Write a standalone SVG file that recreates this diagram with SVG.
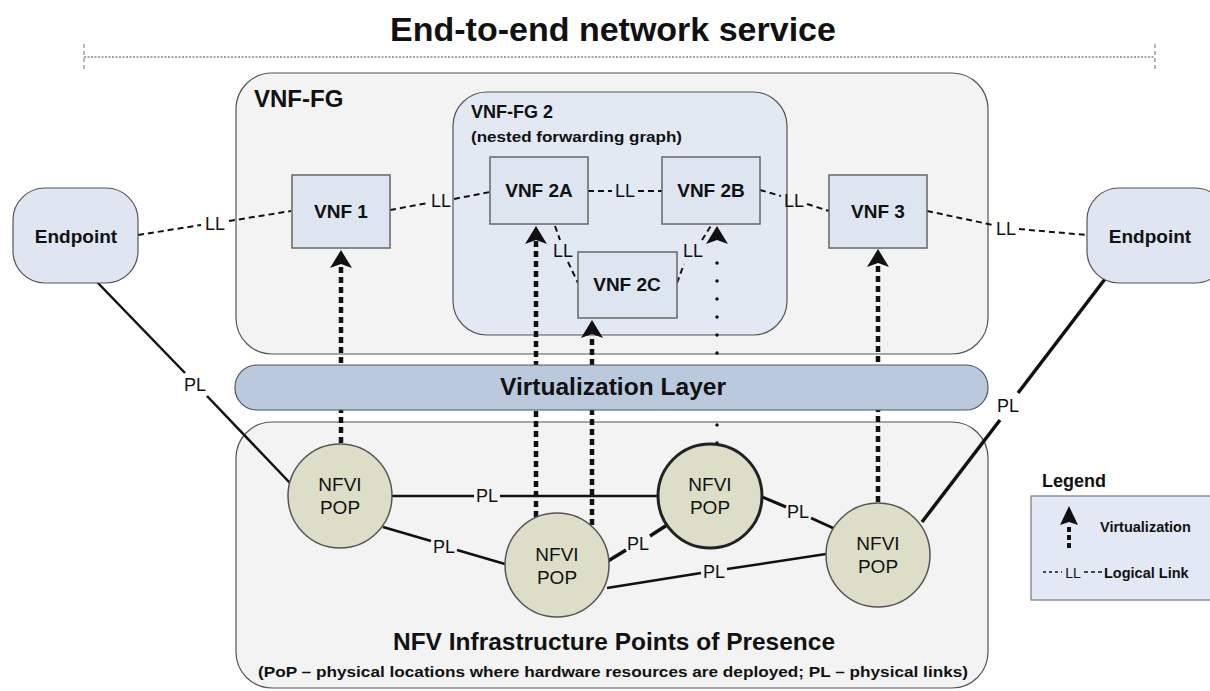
<svg xmlns="http://www.w3.org/2000/svg" width="1210" height="691" viewBox="0 0 1210 691">
<defs>
<style>
text{font-family:"Liberation Sans",Arial,sans-serif;fill:#111}
.b{font-weight:bold}
.m{text-anchor:middle}
.box{fill:#f3f3f3;stroke:#555;stroke-width:1.2}
.vnf{fill:#dde5f0;stroke:#666;stroke-width:1.5}
.ep{fill:#dfe6f1;stroke:#555;stroke-width:1.2}
.pop{fill:#dcdec8;stroke:#555;stroke-width:1.5}
.ll{fill:none;stroke:#111;stroke-width:2;stroke-dasharray:6 4}
.pl{fill:none;stroke:#111;stroke-width:2.5}
.virt{fill:none;stroke:#111;stroke-width:4.5;stroke-dasharray:6 4}
.vdot{fill:none;stroke:#111;stroke-width:3.5;stroke-dasharray:0 18;stroke-linecap:round}
.lbl{font-size:18px}
</style>
<marker id="ah" viewBox="0 0 18 22" refX="3" refY="11" markerWidth="18" markerHeight="22" markerUnits="userSpaceOnUse" orient="auto">
<path d="M0 0 L18 11 L0 22 L4 11 Z" fill="#111"/>
</marker>
</defs>

<g id="title">
<text class="b m" x="613" y="41" font-size="34">End-to-end network service</text>
<line x1="84" y1="57" x2="1155" y2="57" stroke="#888" stroke-width="1.5" stroke-dasharray="2 1.5"/>
<line x1="84" y1="44" x2="84" y2="70" stroke="#888" stroke-width="1.2" stroke-dasharray="4 3"/>
<line x1="1155" y1="44" x2="1155" y2="70" stroke="#888" stroke-width="1.2" stroke-dasharray="4 3"/>
</g>

<g id="vnffg">
<rect class="box" x="236" y="73" width="752" height="281" rx="36"/>
<text class="b" x="254" y="107" font-size="24">VNF-FG</text>
</g>

<g id="nfvi-area">
<rect class="box" x="236" y="422" width="752" height="266" rx="36"/>
<text class="b m" x="614" y="650" font-size="24" textLength="442" lengthAdjust="spacingAndGlyphs">NFV Infrastructure Points of Presence</text>
<text class="b m" x="613" y="677" font-size="15" textLength="710" lengthAdjust="spacingAndGlyphs">(PoP – physical locations where hardware resources are deployed; PL – physical links)</text>
</g>

<g id="vnffg2">
<rect x="453" y="92" width="334" height="243" rx="34" fill="#e2e9f3" stroke="#555" stroke-width="1.2"/>
<text class="b" x="471" y="118" font-size="18">VNF-FG 2</text>
<text class="b" x="471" y="142" font-size="15" textLength="211" lengthAdjust="spacingAndGlyphs">(nested forwarding graph)</text>
</g>

<g id="connectors">
<!-- virtualization arrows -->
<line class="virt" x1="341" y1="443" x2="341" y2="265" marker-end="url(#ah)"/>
<line class="virt" x1="536" y1="517" x2="536" y2="241" marker-end="url(#ah)"/>
<line class="virt" x1="592" y1="525" x2="592" y2="335" marker-end="url(#ah)"/>
<line class="vdot" x1="717" y1="443" x2="717" y2="246"/>
<line x1="717" y1="250" x2="717" y2="241" stroke="none" marker-end="url(#ah)"/>
<line class="virt" x1="878" y1="502" x2="878" y2="264" marker-end="url(#ah)"/>

<!-- logical links -->
<line class="ll" x1="138" y1="235" x2="201" y2="225"/>
<line class="ll" x1="229" y1="221" x2="291" y2="211"/>
<text class="lbl m" x="215" y="230">LL</text>

<line class="ll" x1="390" y1="210" x2="428" y2="203"/>
<line class="ll" x1="454" y1="199" x2="490" y2="192"/>
<text class="lbl m" x="441" y="207">LL</text>

<line class="ll" x1="588" y1="191" x2="612" y2="191"/>
<line class="ll" x1="638" y1="191" x2="662" y2="191"/>
<text class="lbl m" x="625" y="197">LL</text>

<line class="ll" x1="760" y1="190" x2="781" y2="196"/>
<line class="ll" x1="807" y1="204" x2="829" y2="211"/>
<text class="lbl m" x="794" y="207">LL</text>

<line class="ll" x1="927" y1="211" x2="993" y2="225"/>
<line class="ll" x1="1019" y1="229" x2="1087" y2="235"/>
<text class="lbl m" x="1006" y="235">LL</text>

<line class="ll" x1="555" y1="226" x2="560" y2="240"/>
<line class="ll" x1="568" y1="262" x2="578" y2="283"/>
<text class="lbl m" x="563" y="257">LL</text>

<line class="ll" x1="677" y1="283" x2="684" y2="264"/>
<line class="ll" x1="702" y1="240" x2="712" y2="224"/>
<text class="lbl m" x="693" y="257">LL</text>

<!-- physical links -->
<line class="pl" x1="97" y1="282" x2="185" y2="373"/>
<line class="pl" x1="207" y1="396" x2="290" y2="483"/>
<text class="lbl m" x="195" y="391">PL</text>

<line class="pl" x1="1105" y1="279" x2="1018" y2="393" style="stroke-width:3.5"/>
<line class="pl" x1="1000" y1="420" x2="922" y2="522" style="stroke-width:3.5"/>
<text class="lbl m" x="1008" y="412">PL</text>

<line class="pl" x1="392" y1="496" x2="474" y2="496"/>
<line class="pl" x1="500" y1="496" x2="658" y2="496"/>
<text class="lbl m" x="487" y="502">PL</text>

<line class="pl" x1="383" y1="527" x2="431" y2="541"/>
<line class="pl" x1="457" y1="550" x2="505" y2="564"/>
<text class="lbl m" x="444" y="553">PL</text>

<line class="pl" x1="608" y1="561" x2="626" y2="550" style="stroke-width:3.5"/>
<line class="pl" x1="650" y1="536" x2="667" y2="525" style="stroke-width:3.5"/>
<text class="lbl m" x="638" y="550">PL</text>

<line class="pl" x1="762" y1="497" x2="786" y2="507" style="stroke-width:3"/>
<line class="pl" x1="811" y1="518" x2="833" y2="528" style="stroke-width:3"/>
<text class="lbl m" x="798" y="518">PL</text>

<line class="pl" x1="607" y1="588" x2="701" y2="573"/>
<line class="pl" x1="727" y1="569" x2="826" y2="554"/>
<text class="lbl m" x="714" y="578">PL</text>
</g>

<g id="virt-layer">
<rect x="235" y="365" width="753" height="45" rx="22" fill="#bac9de" stroke="#555" stroke-width="1.2"/>
<text class="b m" x="613" y="395" font-size="23" textLength="226" lengthAdjust="spacingAndGlyphs">Virtualization Layer</text>
</g>

<g id="endpoint-left">
<rect class="ep" x="13" y="188" width="125" height="95" rx="32"/>
<text class="b m" x="76" y="243" font-size="19">Endpoint</text>
</g>
<g id="endpoint-right">
<rect class="ep" x="1087" y="188" width="140" height="95" rx="32"/>
<text class="b m" x="1150" y="243" font-size="19">Endpoint</text>
</g>

<g id="vnf1">
<rect class="vnf" x="292" y="175" width="98" height="73"/>
<text class="b m" x="341" y="218" font-size="19">VNF 1</text>
</g>
<g id="vnf2a">
<rect class="vnf" x="490" y="157" width="98" height="67"/>
<text class="b m" x="539" y="197" font-size="19">VNF 2A</text>
</g>
<g id="vnf2b">
<rect class="vnf" x="662" y="157" width="98" height="67"/>
<text class="b m" x="711" y="197" font-size="19">VNF 2B</text>
</g>
<g id="vnf2c">
<rect class="vnf" x="578" y="252" width="99" height="66"/>
<text class="b m" x="627" y="291" font-size="19">VNF 2C</text>
</g>
<g id="vnf3">
<rect class="vnf" x="829" y="175" width="98" height="73"/>
<text class="b m" x="878" y="218" font-size="19">VNF 3</text>
</g>

<g id="pop1">
<circle class="pop" cx="340" cy="496" r="52"/>
<text class="m" x="340" y="491" font-size="19">NFVI</text>
<text class="m" x="340" y="514" font-size="19">POP</text>
</g>
<g id="pop2">
<circle class="pop" cx="557" cy="565" r="52"/>
<text class="m" x="557" y="561" font-size="19">NFVI</text>
<text class="m" x="557" y="584" font-size="19">POP</text>
</g>
<g id="pop3">
<circle class="pop" cx="710" cy="496" r="52" style="stroke:#222;stroke-width:3"/>
<text class="m" x="710" y="491" font-size="19">NFVI</text>
<text class="m" x="710" y="514" font-size="19">POP</text>
</g>
<g id="pop4">
<circle class="pop" cx="878" cy="555" r="52"/>
<text class="m" x="878" y="550" font-size="19">NFVI</text>
<text class="m" x="878" y="573" font-size="19">POP</text>
</g>

<g id="legend">
<text class="b" x="1042" y="487" font-size="18">Legend</text>
<rect x="1031" y="496" width="190" height="104" fill="#e2e9f4" stroke="#777" stroke-width="1.2"/>
<line class="virt" x1="1069" y1="548" x2="1069" y2="524" style="stroke-width:4;stroke-dasharray:5 3"/>
<path d="M1069 506 L1078 525 L1069 522 L1060 525 Z" fill="#111"/>
<text class="b" x="1100" y="532" font-size="14.5">Virtualization</text>
<line x1="1043" y1="572" x2="1062" y2="572" stroke="#111" stroke-width="1.5" stroke-dasharray="3 3"/>
<text x="1073" y="578" font-size="14" class="m">LL</text>
<line x1="1084" y1="572" x2="1102" y2="572" stroke="#111" stroke-width="1.5" stroke-dasharray="4 3"/>
<text class="b" x="1104" y="578" font-size="14.5">Logical Link</text>
</g>
</svg>
